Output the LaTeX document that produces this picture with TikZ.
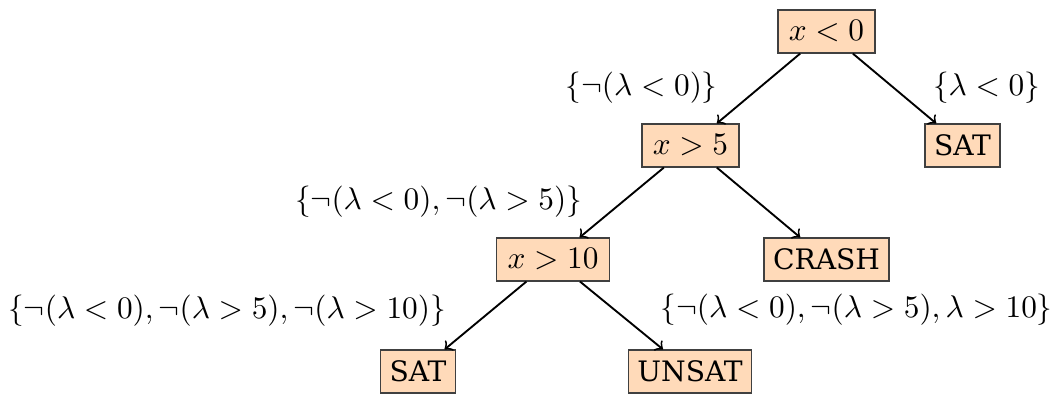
\documentclass[tikz,border=0pt]{standalone}
\usepackage{fontspec}
\setmainfont{DejaVu Serif}
\begin{document}
\begin{tikzpicture}[x=0.3195pt,y=-0.3195pt,
  tnode/.style={draw=black!75,line width=0.4pt,fill={rgb,255:red,255;green,218;blue,185},
    inner xsep=3.5pt,inner ysep=0pt,minimum height=13.7pt},
  txtnode/.style={tnode,inner xsep=2.9pt,font=\fontsize{9}{10}\selectfont},
  edge/.style={->,line width=0.6pt},
  lbl/.style={inner sep=0pt}]
\useasboundingbox (0,0) rectangle (1059,394);
\node[tnode] (r) at (826.5,31.5) {$x<0$};
\node[tnode] (a) at (690.5,145.5) {$x>5$};
\node[txtnode] (s1) at (962.5,145.5) {SAT};
\node[tnode] (b) at (553,259.5) {$x>10$};
\node[txtnode] (c) at (826.5,259.5) {CRASH};
\node[txtnode] (s2) at (418,371.5) {SAT};
\node[txtnode] (u) at (690,371.5) {UNSAT};
\draw[edge] (r) -- (a);
\draw[edge] (r) -- (s1);
\draw[edge] (a) -- (b);
\draw[edge] (a) -- (c);
\draw[edge] (b) -- (s2);
\draw[edge] (b) -- (u);
\node[lbl] (l1) at (641.5,88) {$\{\neg(\lambda<0)\}$};
\node[lbl] (l2) at (986.5,88) {$\{\lambda<0\}$};
\node[lbl] (l3) at (438.5,202) {$\{\neg(\lambda<0),\neg(\lambda>5)\}$};
\node[lbl] (l4) at (227,311) {$\{\neg(\lambda<0),\neg(\lambda>5),\neg(\lambda>10)\}$};
\node[lbl] (l5) at (856.5,310) {$\{\neg(\lambda<0),\neg(\lambda>5),\lambda>10\}$};
\end{tikzpicture}
\end{document}
